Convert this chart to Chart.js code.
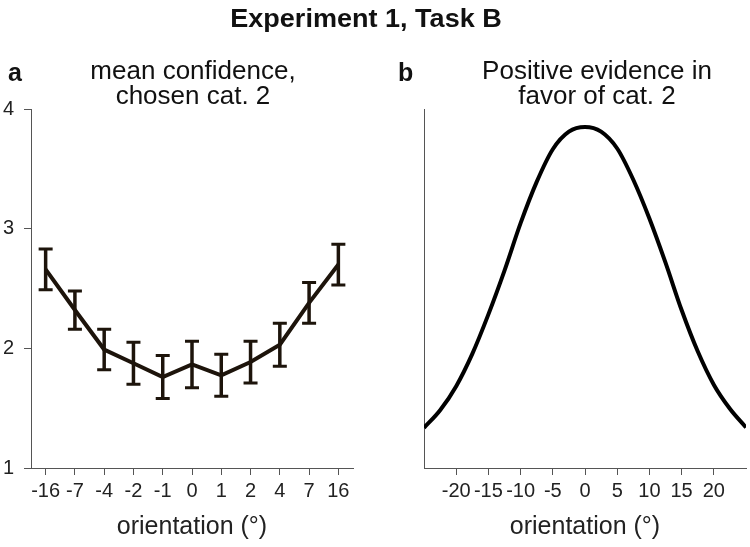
<!DOCTYPE html>
<html>
<head>
<meta charset="utf-8">
<script src="https://cdn.jsdelivr.net/npm/chart.js@4.4.1/dist/chart.umd.min.js"></script>
<style>
  body { margin: 0; background: #fff; }
  #wrap { position: relative; width: 750px; height: 547px; overflow: hidden; font-family: "Liberation Sans", Arial, sans-serif; color: #111; }
  canvas { position: absolute; top: 0; }
  .txt { position: absolute; white-space: nowrap; transform: translateX(-50%) scaleX(1.04); line-height: 1; }
  .main { font-weight: bold; font-size: 26px; }
  .sub { font-size: 25px; text-align: center; line-height: 25px; }
  .letter { position: absolute; font-weight: bold; font-size: 25px; line-height: 1; }
</style>
</head>
<body>
<div id="wrap">
  <canvas id="left" width="375" height="547" style="left:0"></canvas>
  <canvas id="right" width="375" height="547" style="left:375px"></canvas>
  <div class="txt main" style="left:366px; top:5px">Experiment 1, Task B</div>
  <div class="letter" style="left:8px; top:60px">a</div>
  <div class="txt sub" style="left:193px; top:58px">mean confidence,<br>chosen cat. 2</div>
  <div class="letter" style="left:398px; top:60px">b</div>
  <div class="txt sub" style="left:597px; top:58px">Positive evidence in<br>favor of cat. 2</div>
</div>
<script>
// panel a: mean confidence per orientation, with error bars
const orientations = ['-16', '-7', '-4', '-2', '-1', '0', '1', '2', '4', '7', '16'];
const meanConf = [2.66, 2.32, 1.99, 1.875, 1.76, 1.865, 1.775, 1.885, 2.03, 2.38, 2.70];
const errConf = [0.17, 0.16, 0.17, 0.175, 0.18, 0.195, 0.175, 0.175, 0.18, 0.17, 0.17];

// panel b: positive evidence curve
const evidenceX = [-25, -22.5, -20, -17.5, -15, -12.5, -10, -7.5, -5, -2.5, 0, 2.5, 5, 7.5, 10, 12.5, 15, 17.5, 20, 22.5, 25];
const evidenceY = [0.112, 0.161, 0.228, 0.318, 0.428, 0.550, 0.682, 0.797, 0.888, 0.937, 0.950, 0.937, 0.890, 0.803, 0.695, 0.572, 0.440, 0.325, 0.232, 0.165, 0.113];

const ink = '#1d140b';
const axisColor = '#555';
const tickFont = { family: '"Liberation Sans", Arial, sans-serif', size: 20 };
const titleFont = { family: '"Liberation Sans", Arial, sans-serif', size: 25 };

const errorBars = {
    id: 'errorBars',
    afterDatasetsDraw(chart) {
        const ctx = chart.ctx;
        const meta = chart.getDatasetMeta(0);
        const y = chart.scales.y;
        ctx.save();
        ctx.strokeStyle = ink;
        meta.data.forEach((pt, i) => {
            const top = y.getPixelForValue(meanConf[i] + errConf[i]);
            const bot = y.getPixelForValue(meanConf[i] - errConf[i]);
            ctx.lineWidth = 3.5;
            ctx.beginPath();
            ctx.moveTo(pt.x, top);
            ctx.lineTo(pt.x, bot);
            ctx.stroke();
            ctx.lineWidth = 3;
            ctx.beginPath();
            ctx.moveTo(pt.x - 7, top);
            ctx.lineTo(pt.x + 7, top);
            ctx.moveTo(pt.x - 7, bot);
            ctx.lineTo(pt.x + 7, bot);
            ctx.stroke();
        });
        ctx.restore();
    }
};

new Chart(document.getElementById('left'), {
    type: 'line',
    data: {
        labels: orientations,
        datasets: [{
            data: meanConf,
            borderColor: ink,
            borderWidth: 4,
            pointRadius: 0,
            tension: 0
        }]
    },
    options: {
        responsive: false,
        animation: false,
        layout: { padding: { top: 109, right: 22, left: 0, bottom: 0 } },
        plugins: { legend: { display: false }, tooltip: { enabled: false } },
        scales: {
            x: {
                type: 'category',
                offset: true,
                grid: { drawOnChartArea: false, tickLength: 7, color: axisColor },
                border: { color: axisColor },
                ticks: { font: tickFont, color: '#222', padding: 4, autoSkip: false, maxRotation: 0 },
                title: { display: true, text: 'orientation (°)', font: titleFont, color: '#222', padding: { top: 0, bottom: 5 } },
                afterFit(s) { s.height = 79; }
            },
            y: {
                min: 1,
                max: 4,
                grid: { drawOnChartArea: false, tickLength: 7, color: axisColor },
                border: { color: axisColor },
                ticks: { stepSize: 1, font: tickFont, color: '#222', padding: 10 },
                afterFit(s) { s.width = 31; }
            }
        }
    },
    plugins: [errorBars]
});

new Chart(document.getElementById('right'), {
    type: 'line',
    data: {
        datasets: [{
            data: evidenceX.map((x, i) => ({ x: x, y: evidenceY[i] })),
            borderColor: '#000',
            borderWidth: 4,
            pointRadius: 0,
            cubicInterpolationMode: 'monotone'
        }]
    },
    options: {
        responsive: false,
        animation: false,
        layout: { padding: { top: 109, right: 4, left: 0, bottom: 0 } },
        plugins: { legend: { display: false }, tooltip: { enabled: false } },
        scales: {
            x: {
                type: 'linear',
                min: -25,
                max: 25,
                grid: { drawOnChartArea: false, tickLength: 7, color: axisColor },
                border: { color: axisColor },
                ticks: { stepSize: 5, font: tickFont, color: '#222', padding: 4, maxRotation: 0, autoSkip: false },
                afterBuildTicks(s) { s.ticks = s.ticks.filter(t => Math.abs(t.value) < 25); },
                title: { display: true, text: 'orientation (°)', font: titleFont, color: '#222', padding: { top: 0, bottom: 5 } },
                afterFit(s) { s.height = 79; }
            },
            y: {
                min: 0,
                max: 1,
                grid: { display: false },
                border: { color: axisColor },
                ticks: { display: false },
                afterFit(s) { s.width = 49; }
            }
        }
    }
});
</script>
</body>
</html>
